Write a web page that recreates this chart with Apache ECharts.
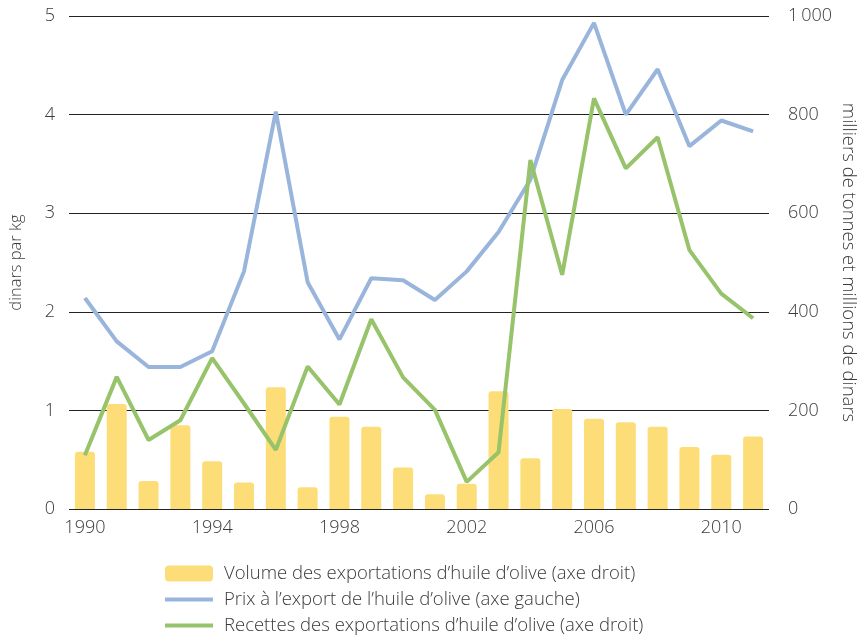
<!DOCTYPE html>
<html><head><meta charset="utf-8">
<script src="https://cdn.jsdelivr.net/npm/echarts@6/dist/echarts.min.js"></script>
<style>html,body{margin:0;padding:0;background:#fff}#c{width:863px;height:637px}</style>
</head><body><div id="c"></div>
<script>
const years = ['1990','1991','1992','1993','1994','1995','1996','1997','1998','1999','2000','2001','2002','2003','2004','2005','2006','2007','2008','2009','2010','2011'];
const volume = [116,213,57,170,97,54,247,44,187,167,84,30,51,239,103,203,183,176,167,126,110,147];
const price = [2.14,1.70,1.44,1.44,1.60,2.41,4.03,2.30,1.72,2.34,2.32,2.12,2.41,2.81,3.34,4.35,4.93,4.00,4.46,3.68,3.94,3.83];
const revenue = [109,268,140,180,306,214,120,289,212,385,267,201,55,115,708,475,833,691,754,525,437,387];
const leftTicks = [0,1,2,3,4,5];
const rightTicks = [0,200,400,600,800,1000];
const names = ["Volume des exportations d\u2019huile d\u2019olive (axe droit)","Prix \u00e0 l\u2019export de l\u2019huile d\u2019olive (axe gauche)","Recettes des exportations d\u2019huile d\u2019olive (axe droit)"];

const FONT = 'Open Sans';
const TXT_COLOR = '#3a3a3a';
const txt = {fontFamily: FONT, color: TXT_COLOR, fontSize: 18, fontWeight: 300};
const lineIcon = 'path://M0,0L0,0M0,6L48,6L48,10L0,10ZM48,16L48,16';
const chart = echarts.init(document.getElementById('c'));
chart.setOption({
  animation: false,
  grid: {left: 69, right: 94, top: 16, bottom: 128, containLabel: false, outerBoundsMode: 'none'},
  legend: {
    orient: 'vertical', left: 165, top: 564, height: 120, padding: 0, itemWidth: 48, itemHeight: 16, itemGap: 7,
    textStyle: {fontFamily: FONT, fontSize: 18.5, fontWeight: 300, color: TXT_COLOR, lineHeight: 16, padding: [0,0,0,6]},
    data: [{name: names[0], icon: 'roundRect'}, {name: names[1], icon: lineIcon}, {name: names[2], icon: lineIcon}]
  },
  xAxis: {
    type: 'category', data: years, boundaryGap: true,
    axisLine: {show: false}, axisTick: {show: false},
    axisLabel: Object.assign({interval: 3, margin: 10}, txt)
  },
  yAxis: [
    {type: 'value', min: leftTicks[0], max: leftTicks[leftTicks.length-1], interval: 1,
     name: 'dinars par kg', nameLocation: 'middle', nameGap: 44, nameRotate: 90, nameMoveOverlap: false,
     nameTextStyle: {fontFamily: FONT, fontSize: 16.5, fontWeight: 300, color: TXT_COLOR, padding: [0,0,0,0]},
     axisLine: {show: false}, axisTick: {show: false},
     axisLabel: Object.assign({margin: 14}, txt),
     splitLine: {lineStyle: {color: '#222', width: 1}}},
    {type: 'value', min: rightTicks[0], max: rightTicks[rightTicks.length-1], interval: 200,
     name: 'milliers de tonnes et millions de dinars', nameLocation: 'middle', nameGap: 70, nameRotate: -90, nameMoveOverlap: false,
     nameTextStyle: {fontFamily: FONT, fontSize: 18.5, fontWeight: 300, color: TXT_COLOR},
     axisLine: {show: false}, axisTick: {show: false},
     axisLabel: Object.assign({margin: 19, formatter: v => v >= 1000 ? String(v).replace(/\B(?=(\d{3})+(?!\d))/g, '\u2009') : String(v)}, txt),
     splitLine: {show: false}}
  ],
  series: [
    {name: names[0], type: 'bar', yAxisIndex: 1, data: volume, barWidth: 20,
     itemStyle: {color: '#FDDD78', borderRadius: [3,3,0,0]}},
    {name: names[1], type: 'line', yAxisIndex: 0, data: price, symbol: 'none',
     lineStyle: {color: '#9AB5DC', width: 4}, itemStyle: {color: '#9AB5DC'}},
    {name: names[2], type: 'line', yAxisIndex: 1, data: revenue, symbol: 'none',
     lineStyle: {color: '#97C36A', width: 4}, itemStyle: {color: '#97C36A'}}
  ]
});
</script></body></html>
